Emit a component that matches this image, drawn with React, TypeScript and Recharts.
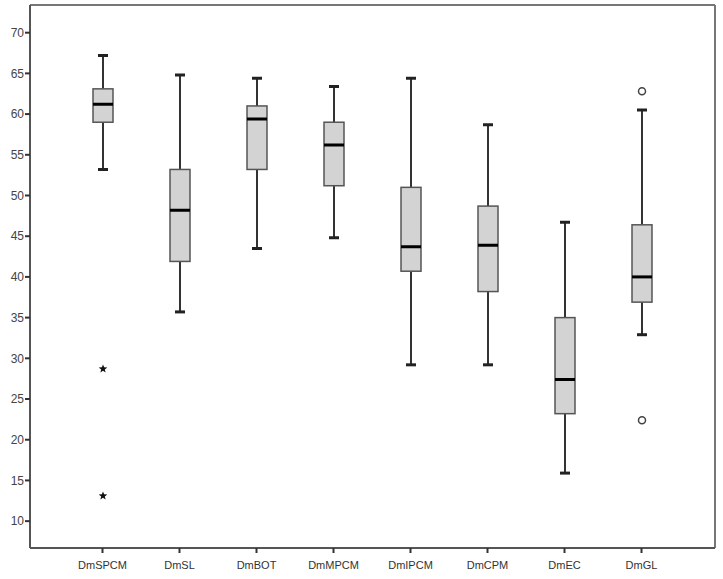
import React from 'react';
import { ComposedChart, Bar, XAxis, YAxis, CartesianGrid } from 'recharts';

const categories = ['DmSPCM', 'DmSL', 'DmBOT', 'DmMPCM', 'DmIPCM', 'DmCPM', 'DmEC', 'DmGL'];
const whiskerLow = [53.2, 35.7, 43.5, 44.8, 29.2, 29.2, 15.9, 32.9];
const q1Values = [59.0, 41.9, 53.2, 51.2, 40.7, 38.2, 23.2, 36.9];
const medianValues = [61.2, 48.2, 59.4, 56.2, 43.7, 43.9, 27.4, 40.0];
const q3Values = [63.1, 53.2, 61.0, 59.0, 51.0, 48.7, 35.0, 46.4];
const whiskerHigh = [67.2, 64.8, 64.4, 63.4, 64.4, 58.7, 46.7, 60.5];
const extremeValues: number[][] = [[28.7, 13.1], [], [], [], [], [], [], []];
const outlierValues: number[][] = [[], [], [], [], [], [], [], [62.8, 22.4]];
const yTicks = [10, 15, 20, 25, 30, 35, 40, 45, 50, 55, 60, 65, 70];

const data = categories.map((name, i) => ({
  name,
  range: [whiskerLow[i], whiskerHigh[i]],
  low: whiskerLow[i],
  q1: q1Values[i],
  median: medianValues[i],
  q3: q3Values[i],
  high: whiskerHigh[i],
  extremes: extremeValues[i],
  outliers: outlierValues[i],
}));

const starPath = (cx: number, cy: number, r: number) => {
  const pts: string[] = [];
  for (let k = 0; k < 10; k++) {
    const rad = k % 2 === 0 ? r : r * 0.42;
    const a = -Math.PI / 2 + (k * Math.PI) / 5;
    pts.push(`${cx + rad * Math.cos(a)},${cy + rad * Math.sin(a)}`);
  }
  return 'M' + pts.join('L') + 'Z';
};

const BoxShape = (props: any) => {
  const { x, y, width, height, payload } = props;
  if (!payload) return null;
  const lo = payload.low;
  const hi = payload.high;
  const toY = (v: number) => y + ((hi - v) / (hi - lo)) * height;
  const cx = x + width / 2;
  const capW = 10;
  const yHi = toY(hi);
  const yLo = toY(lo);
  const yQ3 = toY(payload.q3);
  const yQ1 = toY(payload.q1);
  const yMed = toY(payload.median);
  return (
    <g>
      <line x1={cx} x2={cx} y1={yHi} y2={yQ3} stroke="#333" strokeWidth={2} />
      <line x1={cx} x2={cx} y1={yQ1} y2={yLo} stroke="#333" strokeWidth={2} />
      <line x1={cx - capW / 2} x2={cx + capW / 2} y1={yHi} y2={yHi} stroke="#222" strokeWidth={3} />
      <line x1={cx - capW / 2} x2={cx + capW / 2} y1={yLo} y2={yLo} stroke="#222" strokeWidth={3} />
      <rect x={x} y={yQ3} width={width} height={yQ1 - yQ3} fill="#d3d3d3" stroke="#555" strokeWidth={1.5} />
      <line x1={x} x2={x + width} y1={yMed} y2={yMed} stroke="#000" strokeWidth={3} />
      {payload.extremes.map((v: number, i: number) => (
        <path key={'e' + i} d={starPath(cx, toY(v), 4.5)} fill="#111" />
      ))}
      {payload.outliers.map((v: number, i: number) => (
        <circle key={'o' + i} cx={cx} cy={toY(v)} r={3.5} fill="#fff" stroke="#444" strokeWidth={1.5} />
      ))}
    </g>
  );
};

const frameRight = (p: any) => [p.offset.left + p.offset.width];
const frameTop = (p: any) => [p.offset.top];

export default function App() {
  return (
    <div style={{ position: 'absolute', left: 0, top: 0, background: '#fff' }}>
      <ComposedChart
        width={723}
        height={579}
        data={data}
        margin={{ top: 5, right: 8, left: 0, bottom: 0 }}
      >
        <CartesianGrid
          stroke="#777"
          strokeWidth={2}
          verticalCoordinatesGenerator={frameRight}
          horizontalCoordinatesGenerator={frameTop}
        />
        <XAxis
          dataKey="name"
          height={31}
          padding={{ left: 34, right: 35 }}
          tickSize={5}
          tickMargin={8}
          axisLine={{ stroke: '#555', strokeWidth: 2 }}
          tickLine={{ stroke: '#333', strokeWidth: 2 }}
          tick={{ fill: '#333', fontSize: 11, fontFamily: 'Liberation Sans, Arial, sans-serif' }}
          interval={0}
        />
        <YAxis
          domain={[6.7, 73.4]}
          ticks={yTicks}
          type="number"
          width={30}
          tickSize={5}
          tickMargin={1}
          allowDataOverflow
          axisLine={{ stroke: '#555', strokeWidth: 2 }}
          tickLine={{ stroke: '#333', strokeWidth: 2 }}
          tick={{ fill: '#444', fontSize: 12, fontFamily: 'Liberation Sans, Arial, sans-serif' }}
        />
        <Bar dataKey="range" barSize={20} shape={BoxShape} isAnimationActive={false} />
      </ComposedChart>
    </div>
  );
}
